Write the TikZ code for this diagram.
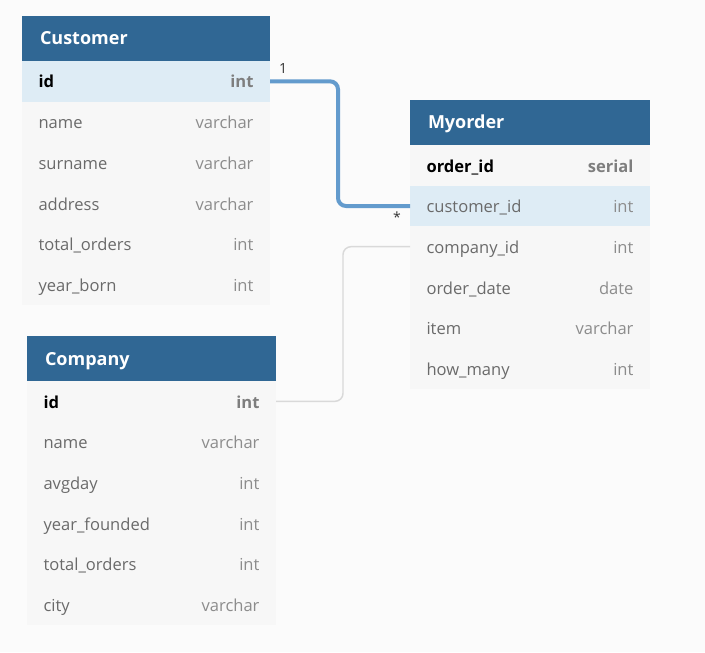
\documentclass[tikz,border=0pt]{standalone}
\usepackage{fontspec}
\setmainfont{Open Sans}
\usetikzlibrary{positioning}

\definecolor{bggray}{HTML}{FBFBFB}
\definecolor{headblue}{RGB}{48,103,148}
\definecolor{rowgray}{HTML}{F7F7F7}
\definecolor{rowblue}{HTML}{DEECF5}
\definecolor{namegray}{HTML}{6A6A6A}
\definecolor{typegray}{HTML}{8C8C8C}
\definecolor{relblue}{RGB}{99,155,205}
\definecolor{relgray}{HTML}{D9D9D9}

\newcommand{\ty}[1]{{\color{typegray}#1}}
\newcommand{\pk}[2]{{\bfseries\color{black}#1}\hfill{\bfseries\color{typegray!90!black}#2}}

\begin{document}
\begin{tikzpicture}[x=0.75pt, y=-0.75pt,
		head/.style={fill=headblue, text=white, font=\fontsize{13.5}{15}\bfseries\selectfont,
			minimum height=33.75pt, inner xsep=13.5pt, inner ysep=0pt, outer sep=0pt,
			text height=12pt, text depth=2.25pt, align=left, anchor=north west},
		row/.style={fill=rowgray, text=namegray, font=\fontsize{12.4}{14}\selectfont,
			minimum height=30.5pt, inner xsep=12.4pt, inner ysep=0pt, outer sep=0pt,
			text height=12pt, text depth=2pt, align=left},
		custrow/.style={row, text width=161.2pt},
		ordrow/.style={row, text width=155.2pt},
		comprow/.style={row, text width=161.95pt},
		rel/.style={line width=3pt, draw=relblue, rounded corners=6pt},
		relthin/.style={line width=1.1pt, draw=relgray, rounded corners=6pt},
		card/.style={font=\fontsize{10.5}{11}\selectfont, text=black!80, inner sep=0pt}]

		\fill[bggray] (0, 0) rectangle (705, 652);

		% Customer
		\node[head, text width=159pt] (cust) at (22, 16) {Customer};
		\node[custrow, fill=rowblue, below=0pt of cust] (cid) {\pk{id}{int}};
		\node[custrow, below=0pt of cid] (cname) {name\hfill\ty{varchar}};
		\node[custrow, below=0pt of cname] (csurname) {surname\hfill\ty{varchar}};
		\node[custrow, below=0pt of csurname] (caddress) {address\hfill\ty{varchar}};
		\node[custrow, below=0pt of caddress] (ctotal) {total\_orders\hfill\ty{int}};
		\node[custrow, below=0pt of ctotal] (cyear) {year\_born\hfill\ty{int}};

		% Myorder
		\node[head, text width=153pt] (ord) at (410, 100) {Myorder};
		\node[ordrow, below=0pt of ord] (oid) {\pk{order\_id}{serial}};
		\node[ordrow, fill=rowblue, below=0pt of oid] (ocust) {customer\_id\hfill\ty{int}};
		\node[ordrow, below=0pt of ocust] (ocomp) {company\_id\hfill\ty{int}};
		\node[ordrow, below=0pt of ocomp] (odate) {order\_date\hfill\ty{date}};
		\node[ordrow, below=0pt of odate] (oitem) {item\hfill\ty{varchar}};
		\node[ordrow, below=0pt of oitem] (ohow) {how\_many\hfill\ty{int}};

		% Company
		\node[head, text width=159.75pt] (comp) at (27, 336) {Company};
		\node[comprow, below=0pt of comp] (kid) {\pk{id}{int}};
		\node[comprow, below=0pt of kid] (kname) {name\hfill\ty{varchar}};
		\node[comprow, below=0pt of kname] (kavg) {avgday\hfill\ty{int}};
		\node[comprow, below=0pt of kavg] (kyear) {year\_founded\hfill\ty{int}};
		\node[comprow, below=0pt of kyear] (ktotal) {total\_orders\hfill\ty{int}};
		\node[comprow, below=0pt of ktotal] (kcity) {city\hfill\ty{varchar}};

		% relations
		\coordinate (bend1) at (338, 0);
		\coordinate (bend2) at (343, 0);
		\draw[relthin] (kid.east) -- (kid.east -| bend2) |- (ocomp.west);
		\draw[rel] (cid.east) -- (cid.east -| bend1) |- (ocust.west);

		\node[card] (one) at ([shift={(13, -13)}]cid.east) {1};
		\node[card] (many) at ([shift={(-13, 11)}]ocust.west) {*};
	\end{tikzpicture}
\end{document}
